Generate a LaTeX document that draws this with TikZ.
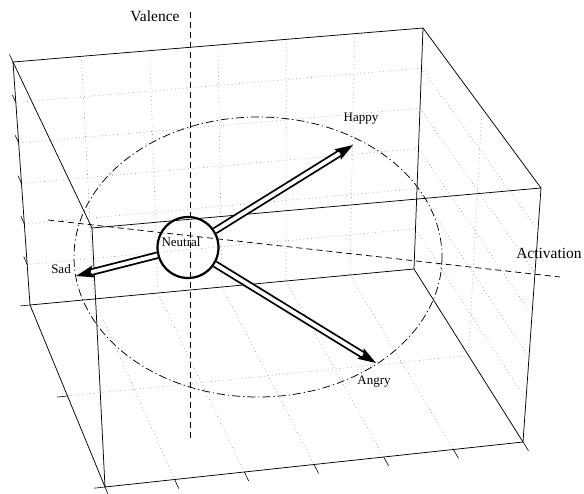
\documentclass[tikz,border=0pt]{standalone}
\usepackage{fontspec}
\setmainfont{Liberation Serif}
\usetikzlibrary{arrows.meta,calc}

\begin{document}
\begin{tikzpicture}[x=1pt, y=-1pt,
  edge/.style={line width=0.75pt},
  gridline/.style={gray!80, line width=0.6pt, dash pattern=on 0.8pt off 3pt},
  tickline/.style={line width=0.6pt},
  axisline/.style={line width=0.75pt, dash pattern=on 6pt off 4pt},
  orbit/.style={line width=0.75pt, dash pattern=on 8pt off 3pt on 1.2pt off 3pt},
  emo/.style={double, double distance=3.8pt, line width=1.8pt, -{Stealth[length=18pt, width=12pt, inset=3pt]}},
  lab/.style={font=\fontsize{13}{13}\selectfont, inner sep=0pt},
  axislab/.style={font=\fontsize{15.5}{16}\selectfont, inner sep=0pt}]
  \useasboundingbox (0,0) rectangle (584,494);
  \coordinate (A) at (13,62);
  \coordinate (B) at (423,28);
  \coordinate (C) at (414,269);
  \coordinate (D) at (30,305);
  \coordinate (E) at (92,228);
  \coordinate (F) at (541,188);
  \coordinate (G) at (523,442);
  \coordinate (H) at (105,487);

  \foreach \k in {1,...,5} {
    \draw[gridline] ($(A)!{\k/6}!(B)$) -- ($(D)!{\k/6}!(C)$);
    \draw[gridline] ($(A)!{\k/6}!(D)$) -- ($(B)!{\k/6}!(C)$);
    \draw[gridline] ($(D)!{\k/6}!(C)$) -- ($(H)!{\k/6}!(G)$);
    \draw[gridline] ($(B)!{\k/6}!(C)$) -- ($(F)!{\k/6}!(G)$);
  }
  \draw[gridline] ($(D)!0.5!(H)$) -- ($(C)!0.5!(G)$);
  \draw[gridline] ($(B)!0.5!(F)$) -- ($(C)!0.5!(G)$);

  \draw[edge] (A) -- (B) -- (C) -- (D) -- cycle;
  \draw[edge] (E) -- (F) -- (G) -- (H) -- cycle;
  \draw[edge] (A) -- (E) (B) -- (F) (C) -- (G) (D) -- (H);

  \foreach \k in {0,...,5} {
    \path ($(A)!{\k/6}!(D)$) coordinate (t) ($(E)!{\k/6}!(H)$) coordinate (s);
    \draw[tickline] (t) -- ($(t)!-0.045!(s)$);
  }
  \foreach \k in {0,...,6} {
    \path ($(H)!{\k/6}!(G)$) coordinate (t) ($(D)!{\k/6}!(C)$) coordinate (s);
    \draw[tickline] (t) -- ($(t)!-0.05!(s)$);
  }
  \foreach \k in {0,1,2} {
    \path ($(D)!{\k/2}!(H)$) coordinate (t) ($(C)!{\k/2}!(G)$) coordinate (s);
    \draw[tickline] (t) -- ($(t)!-0.026!(s)$);
  }

  \coordinate (vtop) at (190,12);
  \coordinate (vbot) at (190,440);
  \coordinate (aleft) at (48,220);
  \coordinate (aright) at (560,277);
  \draw[axisline] (vtop) -- (vbot);
  \draw[axisline] (aleft) -- (aright);
  \draw[orbit] (258,257) ellipse [x radius=184, y radius=140];

  \node[axislab] (valence) at (155,16) {Valence};
  \node[axislab] (activation) at (549,253) {Activation};

  \node[circle, draw, line width=2.2pt, minimum size=61pt, inner sep=0pt] (neutral) at (188,247.5) {};
  \node[lab] (neutrallab) at (181,242) {Neutral};
  \node[lab] (happy) at (361,119) {Happy};
  \node[lab] (sad) at (61,269) {Sad};
  \node[lab] (angry) at (374,382) {Angry};

  \coordinate (happytip) at (353,145);
  \coordinate (sadtip) at (76,276);
  \coordinate (angrytip) at (376,363);
  \draw[emo] (neutral) -- (happytip);
  \draw[emo] (neutral) -- (sadtip);
  \draw[emo] (neutral) -- (angrytip);
\end{tikzpicture}
\end{document}
